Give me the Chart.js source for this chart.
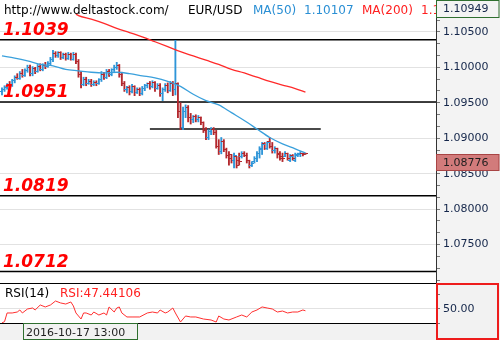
<!DOCTYPE html>
<html>
<head>
<meta charset="utf-8">
<title>EUR/USD</title>
<script src="https://cdn.jsdelivr.net/npm/chart.js@4.4.1/dist/chart.umd.min.js"></script>
<style>
  html, body { margin: 0; padding: 0; background: #fff; }
  #box { position: relative; width: 500px; height: 340px; overflow: hidden; }
  #price { position: absolute; left: 0; top: 0; }
  #rsi { position: absolute; left: 0; top: 283px; }
</style>
</head>
<body>
<div id="box">
  <canvas id="price" width="500" height="283"></canvas>
  <canvas id="rsi" width="500" height="57"></canvas>
</div>
<script>
// ---- data ----
const open = [
  1.0966,1.0969,1.0971,1.0976,1.0974,1.0981,1.0986,1.0984,1.0991,1.0988,
  1.0995,1.1000,1.0991,1.0998,1.0994,1.1001,1.0997,1.1003,1.1001,1.1005,
  1.1011,1.1020,1.1017,1.1021,1.1014,1.1018,1.1012,1.1018,1.1011,1.1018,
  1.1008,1.0990,1.0976,1.0983,1.0977,1.0980,1.0976,1.0978,1.0977,1.0983,
  1.0990,1.0986,1.0994,1.0990,1.0997,1.1000,1.1003,1.0990,1.0977,1.0969,
  1.0971,1.0966,1.0973,1.0964,1.0969,1.0963,1.0970,1.0974,1.0977,1.0973,
  1.0978,1.0970,1.0974,1.0963,1.0969,1.0974,1.0967,1.0977,1.0969,1.0977,
  1.0937,1.0915,1.0937,1.0943,1.0929,1.0926,1.0930,1.0926,1.0929,1.0922,
  1.0911,1.0901,1.0909,1.0912,1.0908,1.0889,1.0881,1.0895,1.0884,1.0875,
  1.0877,1.0868,1.0874,1.0869,1.0874,1.0879,1.0875,1.0868,1.0861,1.0867,
  1.0872,1.0878,1.0884,1.0892,1.0886,1.0895,1.0889,1.0882,1.0886,1.0878,
  1.0874,1.0874,1.0878,1.0869,1.0875,1.0869,1.0875,1.0877,1.0879,1.0879
];
const high = [
  1.0971,1.0974,1.0977,1.0980,1.0983,1.0988,1.0991,1.0994,1.0997,1.0998,
  1.1003,1.1003,1.1001,1.1000,1.1004,1.1005,1.1005,1.1007,1.1008,1.1014,
  1.1024,1.1022,1.1022,1.1022,1.1020,1.1020,1.1021,1.1020,1.1021,1.1020,
  1.1011,1.0994,1.0986,1.0986,1.0983,1.0983,1.0981,1.0981,1.0984,1.0994,
  1.0993,1.0997,1.0997,1.0998,1.1003,1.1007,1.1004,1.0993,1.0980,1.0973,
  1.0974,1.0976,1.0974,1.0971,1.0971,1.0973,1.0976,1.0978,1.0980,1.0981,
  1.0980,1.0977,1.0977,1.0971,1.0977,1.0978,1.0980,1.0980,1.1038,1.0978,
  1.0950,1.0944,1.0947,1.0946,1.0935,1.0932,1.0933,1.0932,1.0930,1.0923,
  1.0915,1.0912,1.0915,1.0915,1.0911,1.0898,1.0901,1.0898,1.0886,1.0881,
  1.0877,1.0879,1.0874,1.0879,1.0881,1.0881,1.0879,1.0869,1.0867,1.0874,
  1.0881,1.0888,1.0894,1.0894,1.0895,1.0901,1.0894,1.0888,1.0886,1.0881,
  1.0879,1.0881,1.0879,1.0877,1.0877,1.0879,1.0879,1.0881,1.0879,1.0879
];
const low = [
  1.0961,1.0966,1.0969,1.0971,1.0973,1.0978,1.0983,1.0983,1.0986,1.0987,
  1.0993,1.0988,1.0988,1.0991,1.0993,1.0995,1.0995,1.0998,1.1000,1.1003,
  1.1008,1.1014,1.1014,1.1011,1.1012,1.1010,1.1011,1.1010,1.1010,1.1005,
  1.0986,1.0971,1.0974,1.0974,1.0976,1.0973,1.0974,1.0974,1.0976,1.0980,
  1.0983,1.0984,1.0987,1.0988,1.0994,1.0997,1.0986,1.0974,1.0966,1.0964,
  1.0961,1.0964,1.0960,1.0963,1.0960,1.0961,1.0967,1.0971,1.0969,1.0971,
  1.0966,1.0969,1.0959,1.0953,1.0966,1.0964,1.0966,1.0960,1.0961,1.0929,
  1.0912,1.0912,1.0929,1.0923,1.0920,1.0922,1.0923,1.0923,1.0919,1.0908,
  1.0898,1.0898,1.0905,1.0905,1.0886,1.0877,1.0878,1.0881,1.0872,1.0862,
  1.0865,1.0858,1.0858,1.0862,1.0872,1.0874,1.0865,1.0858,1.0860,1.0865,
  1.0867,1.0872,1.0877,1.0884,1.0884,1.0886,1.0879,1.0879,1.0872,1.0869,
  1.0867,1.0874,1.0869,1.0867,1.0869,1.0867,1.0874,1.0874,1.0875,1.0877
];
const close = [
  1.0969,1.0971,1.0976,1.0974,1.0981,1.0986,1.0984,1.0991,1.0988,1.0995,
  1.1000,1.0991,1.0998,1.0994,1.1001,1.0997,1.1003,1.1001,1.1005,1.1011,
  1.1020,1.1017,1.1021,1.1014,1.1018,1.1012,1.1018,1.1011,1.1018,1.1008,
  1.0990,1.0976,1.0983,1.0977,1.0980,1.0976,1.0978,1.0977,1.0983,1.0990,
  1.0986,1.0994,1.0990,1.0997,1.1000,1.1003,1.0990,1.0977,1.0969,1.0971,
  1.0966,1.0973,1.0964,1.0969,1.0963,1.0970,1.0974,1.0977,1.0973,1.0978,
  1.0970,1.0974,1.0963,1.0969,1.0974,1.0967,1.0977,1.0969,1.0977,1.0937,
  1.0915,1.0937,1.0943,1.0929,1.0926,1.0930,1.0926,1.0929,1.0922,1.0911,
  1.0901,1.0909,1.0912,1.0908,1.0889,1.0881,1.0895,1.0884,1.0875,1.0872,
  1.0868,1.0875,1.0862,1.0867,1.0879,1.0875,1.0868,1.0861,1.0865,1.0872,
  1.0878,1.0885,1.0891,1.0886,1.0894,1.0889,1.0882,1.0886,1.0877,1.0872,
  1.0871,1.0879,1.0872,1.0874,1.0871,1.0877,1.0878,1.0879,1.0877,1.0878
];

const maIdx = [0,5,10,15,20,25,30,35,40,45,50,55,60,65,70,75,80,85,90,95,100,105,110,115,119];
const ma50 = [1.1016,1.1013,1.1009,1.1004,1.1002,1.0997,1.0995,1.0993,1.0992,1.0993,1.0991,1.0988,1.0985,
              1.0980,1.0973,1.0962,1.0953,1.0947,1.0936,1.0925,1.0913,1.0901,1.0892,1.0885,1.0879];
const ma200Idx = [29,30,35,40,45,50,55,60,65,70,75,80,85,90,95,100,105,110,115,119];
const ma200 = [1.1075,1.1073,1.1068,1.1062,1.1055,1.1049,1.1043,1.1036,1.1029,1.1022,
               1.1016,1.1010,1.1004,1.0997,1.0992,1.0986,1.0980,1.0975,1.0970,1.0965];

const levels = [1.1039, 1.0951, 1.0819, 1.0712];
const supportFrom = 58, supportTo = 125, supportPrice = 1.0913;

const rsiIdx = [0,1,2,4,6,7,8,10,12,13,15,17,19,21,23,25,27,28,29,31,32,33,35,36,38,40,41,42,44,45,
                46,47,49,51,54,57,59,61,62,64,65,67,68,70,72,74,76,79,82,84,85,87,89,92,94,96,98,100,
                102,104,106,108,110,112,114,116,118,119];
const rsiVal = [30.2,31.9,44.3,44.3,45.7,48.6,44.3,50.0,51.4,48.6,55.7,52.9,55.7,61.4,58.6,57.1,60.0,54.3,44.3,35.7,
                44.3,44.3,41.4,45.7,41.4,44.3,41.4,52.9,45.7,51.4,52.9,44.3,38.6,38.6,38.6,44.3,45.7,44.3,48.6,44.3,
                45.7,51.4,44.3,31.4,40.0,38.6,38.6,35.7,34.3,31.4,40.0,35.7,34.3,38.6,41.4,38.6,45.7,48.6,52.9,51.4,
                50.0,45.7,47.1,44.3,45.7,45.7,48.6,47.44];

const priceLabels = [1.075, 1.080, 1.085, 1.090, 1.095, 1.100, 1.105];
const rsiTicks = [30, 50, 70];
const rsiLabels = [50];

const lastPrice = 1.08776;
const ma50Text = '1.10107';
const ma200Text = '1.10734';
const rsiText = '47.44106';
const cursorDate = '2016-10-17 13:00';

// ---- layout / styling ----
const xMin = -0.78, xMax = 170.2;
const axisMax = 1.10949, axisMin = 1.06958;
const firstTick = 1.07, tickStep = 0.005 / 3;
const upColor = '#2e95d8', downColor = '#b3282d';
const font = 'DejaVu Sans';

const isLabel = (list, v) => list.some(p => Math.abs(p - v) < 1e-7);
const isUp = i => close[i] >= open[i];

function stub(color, left) {
  const c = document.createElement('canvas');
  c.width = 5; c.height = 1;
  const g = c.getContext('2d');
  g.fillStyle = color;
  g.fillRect(left ? 0 : 2, 0, 3, 1);
  return c;
}
const openUp = stub(upColor, true), openDown = stub(downColor, true);
const closeUp = stub(upColor, false), closeDown = stub(downColor, false);

function fixAxis(s) {
  s.width = 64;
  s.paddingTop = 0;
  s.paddingBottom = 0;
}

const priceDecor = {
  id: 'priceDecor',
  beforeDraw(chart) {
    const { ctx, chartArea: a, width, height } = chart;
    ctx.save();
    ctx.fillStyle = '#f3f3f3';
    ctx.fillRect(0, 0, width, height);
    ctx.fillStyle = '#fff';
    ctx.fillRect(a.left, a.top, a.right - a.left, a.bottom - a.top);
    ctx.restore();
  },
  afterDraw(chart) {
    const { ctx, chartArea: a, width } = chart;
    const y = chart.scales.y;
    ctx.save();

    // level captions
    ctx.font = 'italic bold 17px "' + font + '"';
    ctx.fillStyle = '#ff0000';
    ctx.textBaseline = 'alphabetic';
    levels.forEach(v => ctx.fillText(v.toFixed(4), a.left + 3, y.getPixelForValue(v) - 5));

    // header
    ctx.save();
    ctx.beginPath();
    ctx.rect(a.left, a.top, a.right - a.left, a.bottom - a.top);
    ctx.clip();
    ctx.font = '12px "' + font + '"';
    ctx.fillStyle = '#000';
    ctx.fillText('http://www.deltastock.com/', 4, 14);
    ctx.fillText('EUR/USD', 188, 14);
    ctx.fillStyle = '#2a8fd4';
    ctx.fillText('MA(50)', 253, 14);
    ctx.fillText(ma50Text, 304, 14);
    ctx.fillStyle = '#ff2020';
    ctx.fillText('MA(200)', 362, 14);
    ctx.fillText(ma200Text, 421, 14);
    ctx.restore();

    // top value box
    ctx.font = '11px "' + font + '"';
    ctx.textBaseline = 'middle';
    ctx.fillStyle = '#f3f3f3';
    ctx.fillRect(a.right + 0.5, 0.5, width - a.right - 1.5, 17);
    ctx.strokeStyle = '#2f6f2f';
    ctx.lineWidth = 1;
    ctx.strokeRect(a.right + 0.5, 0.5, width - a.right - 1.5, 17);
    ctx.fillStyle = '#14264a';
    ctx.fillText(axisMax.toFixed(5), a.right + 7, 9.5);

    // last price box
    const py = Math.round(y.getPixelForValue(lastPrice));
    ctx.fillStyle = '#d27b7b';
    ctx.fillRect(a.right + 0.5, py + 0.5, width - a.right - 1.5, 16);
    ctx.strokeStyle = '#a84444';
    ctx.strokeRect(a.right + 0.5, py + 0.5, width - a.right - 1.5, 16);
    ctx.fillStyle = '#1e1e1e';
    ctx.fillText(lastPrice.toFixed(5), a.right + 7, py + 9);

    ctx.restore();
  }
};

const rsiDecor = {
  id: 'rsiDecor',
  beforeDraw(chart) {
    const { ctx, chartArea: a, width, height } = chart;
    ctx.save();
    ctx.fillStyle = '#f2f2f2';
    ctx.fillRect(0, 0, width, height);
    ctx.fillStyle = '#fff';
    ctx.fillRect(a.left, a.top, a.right - a.left, a.bottom - a.top);
    ctx.restore();
  },
  afterDraw(chart) {
    const { ctx, chartArea: a, width, height } = chart;
    ctx.save();
    ctx.strokeStyle = '#000';
    ctx.lineWidth = 1;
    ctx.beginPath();
    ctx.moveTo(0, 0.5); ctx.lineTo(a.right, 0.5);
    ctx.moveTo(0, a.bottom + 0.5); ctx.lineTo(a.right, a.bottom + 0.5);
    ctx.stroke();

    ctx.font = '12px "' + font + '"';
    ctx.textBaseline = 'alphabetic';
    ctx.fillStyle = '#000';
    ctx.fillText('RSI(14)', 5, 14);
    ctx.fillStyle = '#ff2020';
    ctx.fillText('RSI:' + rsiText, 60, 14);

    // cursor date box
    ctx.strokeStyle = '#2f6f2f';
    ctx.strokeRect(23.5, a.bottom + 0.5, 114, height - a.bottom - 1);
    ctx.font = '11px "' + font + '"';
    ctx.fillStyle = '#1e1e1e';
    ctx.fillText(cursorDate, 26, a.bottom + 13);

    // red frame round the indicator scale
    ctx.strokeStyle = '#ee1c1c';
    ctx.lineWidth = 2;
    ctx.strokeRect(a.right + 1, 1, width - a.right - 3, height - 2);
    ctx.restore();
  }
};

const levelSets = levels.map(v => ({
  type: 'line',
  data: [{ x: xMin, y: v }, { x: xMax, y: v }],
  borderColor: '#000', borderWidth: 1.5, pointRadius: 0, order: 6
}));

new Chart('price', {
  type: 'bar',
  data: {
    datasets: [
      ...levelSets,
      {
        type: 'line',
        data: [{ x: supportFrom, y: supportPrice }, { x: supportTo, y: supportPrice }],
        borderColor: '#4a4a4a', borderWidth: 2, pointRadius: 0, order: 5
      },
      {
        type: 'bar',
        data: open.map((o, i) => ({ x: i, y: [low[i], high[i]] })),
        backgroundColor: ctx => isUp(ctx.dataIndex) ? upColor : downColor,
        barThickness: 1.2, order: 3
      },
      {
        type: 'line', showLine: false,
        data: open.map((o, i) => ({ x: i, y: o })),
        pointStyle: ctx => isUp(ctx.dataIndex) ? openUp : openDown,
        pointRadius: 2, order: 2
      },
      {
        type: 'line', showLine: false,
        data: close.map((c, i) => ({ x: i, y: c })),
        pointStyle: ctx => isUp(ctx.dataIndex) ? closeUp : closeDown,
        pointRadius: 2, order: 2
      },
      {
        type: 'line',
        data: maIdx.map((x, k) => ({ x: x, y: ma50[k] })),
        borderColor: '#3aa0dc', borderWidth: 1.3, pointRadius: 0,
        cubicInterpolationMode: 'monotone', order: 1
      },
      {
        type: 'line',
        data: ma200Idx.map((x, k) => ({ x: x, y: ma200[k] })),
        borderColor: '#ff2a2a', borderWidth: 1.3, pointRadius: 0,
        cubicInterpolationMode: 'monotone', order: 1
      }
    ]
  },
  options: {
    responsive: false,
    animation: false,
    events: [],
    layout: { padding: 0, autoPadding: false },
    plugins: { legend: { display: false }, tooltip: { enabled: false } },
    scales: {
      x: { type: 'linear', min: xMin, max: xMax, offset: false, display: false },
      y: {
        position: 'right', min: axisMin, max: axisMax,
        afterBuildTicks: s => {
          const t = [];
          for (let k = 0; firstTick + k * tickStep <= s.max + 1e-9; k++) t.push({ value: firstTick + k * tickStep });
          s.ticks = t;
        },
        afterFit: fixAxis,
        border: { color: '#333', width: 1 },
        grid: {
          color: c => c.tick && isLabel(priceLabels, c.tick.value) ? '#e2e2e2' : 'rgba(0,0,0,0)',
          tickColor: '#7a7a7a', tickLength: 4
        },
        ticks: {
          autoSkip: false, padding: 3, color: '#14264a',
          font: { family: font, size: 11 },
          callback: v => isLabel(priceLabels, v) ? v.toFixed(5) : ''
        }
      }
    }
  },
  plugins: [priceDecor]
});

new Chart('rsi', {
  type: 'line',
  data: {
    datasets: [{
      data: rsiIdx.map((x, k) => ({ x: x, y: rsiVal[k] })),
      borderColor: '#ff3030', borderWidth: 1, pointRadius: 0, tension: 0
    }]
  },
  options: {
    responsive: false,
    animation: false,
    events: [],
    layout: { padding: 0, autoPadding: false },
    plugins: { legend: { display: false }, tooltip: { enabled: false } },
    scales: {
      x: {
        type: 'linear', min: xMin, max: xMax, offset: false,
        grid: { display: false }, ticks: { display: false }, border: { display: false },
        afterFit: s => { s.height = 17; }
      },
      y: {
        position: 'right', min: 30, max: 87.1,
        afterBuildTicks: s => { s.ticks = rsiTicks.map(v => ({ value: v })); },
        afterFit: fixAxis,
        border: { color: '#333', width: 1 },
        grid: {
          color: c => c.tick && rsiLabels.includes(c.tick.value) ? '#e2e2e2' : 'rgba(0,0,0,0)',
          tickColor: '#7a7a7a', tickLength: 4
        },
        ticks: {
          autoSkip: false, padding: 3, color: '#14264a',
          font: { family: font, size: 11 },
          callback: v => rsiLabels.includes(v) ? v.toFixed(2) : ''
        }
      }
    }
  },
  plugins: [rsiDecor]
});
</script>
</body>
</html>
